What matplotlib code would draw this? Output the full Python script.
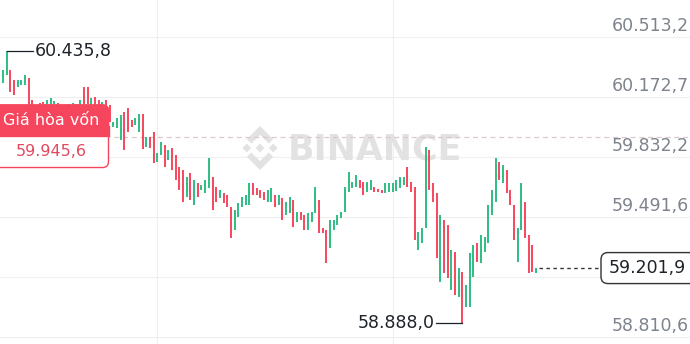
import matplotlib
matplotlib.use("Agg")
import matplotlib.pyplot as plt
from matplotlib.patches import FancyBboxPatch, Rectangle, Polygon
from matplotlib.transforms import Affine2D

# candle bodies, oldest first
opens = [
    60252, 60298, 60326, 60269, 60229, 60241, 60241, 60281, 60156, 60088,
    60139, 60144, 60116, 60122, 60116, 60139, 60071, 60122, 60088, 60099,
    60133, 60122, 60229, 60229, 60122, 60173, 60156, 60099, 60156, 60127,
    60003, 59997, 59929, 60088, 60110, 60042, 60014, 59974, 60076, 59889,
    59946, 59974, 59804, 59844, 59900, 59815, 59883, 59844, 59776, 59758,
    59605, 59741, 59560, 59685, 59645, 59628, 59656, 59719, 59662, 59600,
    59628, 59617, 59548, 59418, 59492, 59548, 59560, 59560, 59685, 59656,
    59645, 59634, 59577, 59577, 59617, 59560, 59600, 59503, 59514, 59588,
    59463, 59520, 59503, 59418, 59463, 59514, 59588, 59429, 59418, 59316,
    59418, 59446, 59486, 59520, 59634, 59656, 59662, 59702, 59690, 59634,
    59645, 59662, 59651, 59645, 59628, 59634, 59634, 59639, 59656, 59673,
    59776, 59690, 59662, 59304, 59344, 59429, 59872, 59685, 59628, 59123,
    59475, 59446, 59077, 59293, 59038, 59180, 58981, 58981, 59151, 59344,
    59231, 59293, 59344, 59503, 59577, 59804, 59685, 59758, 59645, 59560,
    59236, 59418, 59577, 59390, 59333, 59174,
]
closes = [
    60326, 60435.8, 60201, 60184, 60269, 60269, 60298, 60116, 60071, 60127,
    60088, 60110, 60156, 60167, 60150, 60088, 60127, 60065, 60133, 60139,
    60099, 60156, 60122, 60133, 60167, 60122, 60099, 60144, 60088, 60031,
    60031, 60054, 60071, 59872, 59974, 60003, 60054, 60076, 59878, 59946,
    59883, 59798, 59855, 59917, 59776, 59872, 59758, 59702, 59645, 59577,
    59719, 59588, 59702, 59605, 59673, 59702, 59827, 59531, 59577, 59645,
    59571, 59548, 59373, 59531, 59571, 59605, 59617, 59685, 59617, 59617,
    59600, 59588, 59645, 59656, 59548, 59617, 59475, 59577, 59605, 59435,
    59520, 59475, 59418, 59514, 59520, 59662, 59401, 59401, 59231, 59475,
    59475, 59503, 59520, 59662, 59747, 59690, 59730, 59656, 59617, 59690,
    59702, 59634, 59634, 59628, 59685, 59685, 59685, 59702, 59719, 59719,
    59662, 59634, 59361, 59407, 59429, 59889, 59645, 59577, 59259, 59503,
    59174, 59146, 59304, 59049, 59202, 58888.0, 59106, 59287, 59333, 59236,
    59390, 59378, 59560, 59645, 59827, 59702, 59787, 59628, 59560, 59361,
    59429, 59685, 59373, 59174, 59180, 59201.9,
]
breakeven = 59945.6
breakeven_title = "Giá hòa vốn"
price_ticks = [58810.6, 59151.1, 59491.6, 59832.2, 60172.7, 60513.2]
time_grid = [41.9, 106.1]

green = "#2ebd85"
red = "#f6465d"
grey = "#7d838d"
dark = "#1e2329"
wm = "#e2e2e2"

plt.rcParams["font.family"] = ["DejaVu Sans"]


def vn(v):
    # 60,435.8 -> 60.435,8
    s = f"{v:,.1f}"
    return s.replace(",", " ").replace(".", ",").replace(" ", ".")


W, H = 690, 344
fig = plt.figure(figsize=(W / 100, H / 100), dpi=100)
ax = fig.add_axes([0, 0, 1, 1])
ax.set_xlim(-0.816, 186.9)
ax.set_ylim(58771.0, 60723.2)
for s in ax.spines.values():
    s.set_visible(False)
ax.set_xticks(time_grid)
ax.set_yticks(price_ticks)
ax.tick_params(length=0, labelbottom=False, labelleft=False)
ax.grid(True, color="#efefef", lw=0.8)
ax.set_axisbelow(True)

px = Affine2D().scale(1, -1).translate(0, H)  # pixel coords, origin top-left


def to_px(x, y):
    dx, dy = ax.transData.transform((x, y))
    return dx, H - dy


# watermark
cx, cy, sc = 260, 148, 22
shapes = [
    [(0, -0.2), (0.2, 0), (0, 0.2), (-0.2, 0)],
    [(-0.6, -0.2), (-0.4, 0), (-0.6, 0.2), (-0.8, 0)],
    [(0.6, -0.2), (0.8, 0), (0.6, 0.2), (0.4, 0)],
    [(-0.6, -0.4), (0, -1), (0.6, -0.4), (0.4, -0.2), (0, -0.6), (-0.4, -0.2)],
    [(-0.6, 0.4), (0, 1), (0.6, 0.4), (0.4, 0.2), (0, 0.6), (-0.4, 0.2)],
]
for sh in shapes:
    ax.add_patch(Polygon([(cx + sc * a, cy + sc * b) for a, b in sh],
                         closed=True, fc=wm, ec="none", transform=px, zorder=1))
ax.text(288, 149, "BINANCE", transform=px, ha="left", va="center",
        fontsize=25, fontweight="bold", color=wm, zorder=1)

# candles
idx = list(range(len(opens)))
lo = [min(o, c) for o, c in zip(opens, closes)]
hi = [max(o, c) for o, c in zip(opens, closes)]
cols = [green if c >= o else red for o, c in zip(opens, closes)]
ax.vlines(idx, lo, hi, colors=cols, lw=1.4, zorder=3)

ax.axhline(breakeven, color="#dcc8cc", lw=0.9, ls=(0, (4, 3)), zorder=2)

# last price position (the tag hides the scale label under it)
xl, yl = to_px(idx[-1], closes[-1])

# price scale labels
for v in price_ticks:
    _, y = to_px(0, v)
    if abs((y - 11) - yl) < 16:
        continue
    ax.text(689, y - 11, vn(v), transform=px, ha="right", va="center",
            fontsize=12.5, color=grey, zorder=4)

# high / low markers
i_hi = max(idx, key=lambda i: hi[i])
x0, y0 = to_px(i_hi, hi[i_hi])
ax.plot([x0, x0 + 26], [y0, y0], transform=px, color=dark, lw=0.9, zorder=4)
ax.text(x0 + 28, y0, vn(hi[i_hi]), transform=px, ha="left", va="center",
        fontsize=12.5, color=dark, zorder=4)

i_lo = min(idx, key=lambda i: lo[i])
x1, y1 = to_px(i_lo, lo[i_lo])
ax.plot([x1 - 26, x1], [y1, y1], transform=px, color=dark, lw=0.9, zorder=4)
ax.text(x1 - 28, y1, vn(lo[i_lo]), transform=px, ha="right", va="center",
        fontsize=12.5, color=dark, zorder=4)

# last price tag
ax.plot([xl + 3, 601], [yl, yl], transform=px, color="#333333", lw=1.0,
        ls=(0, (2.5, 2.5)), zorder=4)
ax.add_patch(FancyBboxPatch((601, yl - 15.5), 95, 31,
                            boxstyle="round,pad=0,rounding_size=7",
                            fc="white", ec="#333333", lw=1.0, transform=px, zorder=5))
ax.text(609, yl, vn(closes[-1]), transform=px, ha="left", va="center",
        fontsize=12.5, color=dark, zorder=6)

# breakeven tag
_, yb = to_px(0, breakeven)
yb -= 1
ax.add_patch(FancyBboxPatch((-10, yb - 31), 118.5, 62.5,
                            boxstyle="round,pad=0,rounding_size=6",
                            fc="white", ec=red, lw=1.0, transform=px, zorder=5))
ax.add_patch(FancyBboxPatch((-10, yb - 31), 118.5, 31,
                            boxstyle="round,pad=0,rounding_size=6",
                            fc=red, ec=red, lw=1.0, transform=px, zorder=5))
ax.add_patch(Rectangle((-10, yb - 10), 118.5, 10, fc=red, ec=red, lw=1.0,
                       transform=px, zorder=5))
ax.text(51, yb - 15.5, breakeven_title, transform=px, ha="center", va="center",
        fontsize=11.5, color="white", zorder=6)
ax.text(51, yb + 15.5, vn(breakeven), transform=px, ha="center", va="center",
        fontsize=11.5, color="#e2495f", zorder=6)

fig.savefig("out.png", dpi=100, facecolor="white")
